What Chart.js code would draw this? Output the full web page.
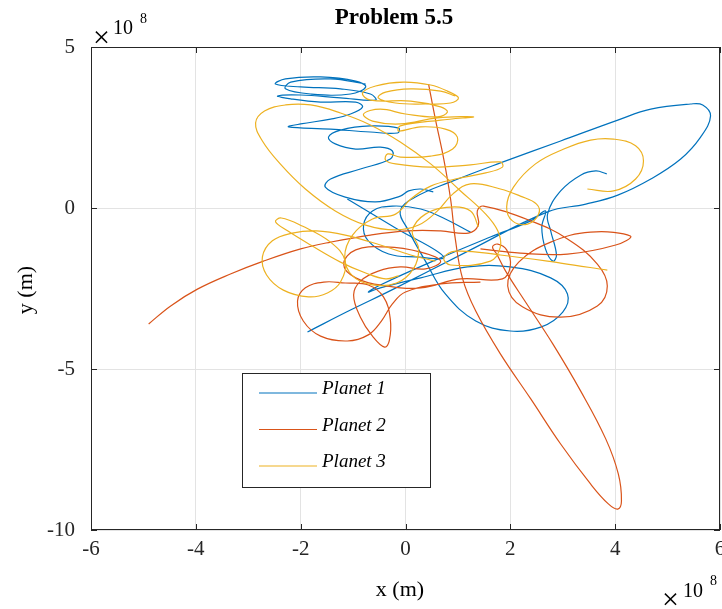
<!DOCTYPE html>
<html>
<head>
<meta charset="utf-8">
<title>Problem 5.5</title>
<script src="https://cdn.jsdelivr.net/npm/chart.js@4.4.1/dist/chart.umd.min.js"></script>
<style>
  html, body { margin: 0; padding: 0; background: #ffffff; }
  #wrap { width: 722px; height: 609px; }
</style>
</head>
<body>
<div id="wrap"><canvas id="orbitChart" width="722" height="609"></canvas></div>
<script>
// positions in units of 1e8 m
const xTicks = [-6, -4, -2, 0, 2, 4, 6];
const yTicks = [-10, -5, 0, 5];
const seriesNames = ["Planet 1", "Planet 2", "Planet 3"];

const planet1PathA = [[-1.87,-3.85],[-1.05,-3.17],[-0.23,-2.52],[1.24,-1.30],[2.71,-0.12],[3.44,0.12],[4.05,0.40],[4.68,0.90],[5.25,1.52],[5.63,2.20],[5.82,2.86],[5.67,3.20],[5.44,3.23],[4.68,3.07],[4.05,2.73],[2.96,2.08],[1.81,1.40],[0.86,0.81],[0.19,0.34],[-0.10,-0.09],[0.06,-0.71],[0.38,-1.65],[0.76,-2.67],[1.34,-3.51],[2.00,-3.82],[2.58,-3.70],[3.00,-3.23],[3.09,-2.67],[2.77,-2.17],[2.00,-1.83],[1.18,-1.83],[0.29,-2.17],[-0.48,-2.48],[-0.71,-2.61],[-0.48,-2.39],[0.48,-1.68],[1.62,-0.90],[2.39,-0.40],[2.67,-0.09],[2.60,-0.59],[2.67,-1.27],[2.81,-1.65],[2.88,-1.46],[2.77,-0.71],[2.71,-0.19],[2.96,0.53],[3.34,1.02],[3.63,1.15],[3.84,1.06]];
const planet1PathB = [[0.53,0.50],[0.29,0.59],[0.06,0.53],[-0.10,0.37],[-0.57,0.19],[-1.15,0.34],[-1.53,0.65],[-1.43,0.90],[-0.86,1.21],[-0.29,1.52],[-0.25,1.77],[-0.48,1.89],[-0.95,1.83],[-1.34,1.99],[-1.47,2.20],[-1.24,2.42],[-0.67,2.55],[-0.13,2.48],[-0.15,2.33],[-0.67,2.36],[-1.43,2.45],[-2.23,2.52],[-2.00,2.61],[-1.43,2.76],[-1.05,2.92],[-0.82,3.14],[-0.95,3.29],[-1.62,3.29],[-2.19,3.39],[-2.44,3.48],[-2.00,3.51],[-1.24,3.42],[-0.57,3.35],[-0.67,3.54],[-1.24,3.70],[-2.00,3.76],[-2.48,3.85],[-2.29,4.01],[-1.62,4.07],[-0.95,3.94],[-0.76,3.76],[-1.05,3.54],[-1.81,3.54],[-2.29,3.70],[-2.19,3.91],[-1.43,4.01],[-0.76,3.85]];
const planet1PathC = [[-1.11,0.28],[-0.19,-0.62],[0.73,-1.52],[0.19,-1.52],[-0.32,-1.43],[-0.71,-1.02],[-0.80,-0.53],[-0.63,-0.09],[-0.25,0.06],[0.29,-0.03],[0.76,-0.34],[1.24,-0.75]];

const planet2PathA = [[-4.90,-3.60],[-4.48,-3.04],[-3.97,-2.52],[-3.34,-2.05],[-2.71,-1.65],[-2.00,-1.27],[-1.43,-1.06],[-0.67,-0.84],[0.04,-0.71],[0.67,-0.71],[1.20,-0.78],[1.39,-0.53],[1.37,-0.09],[1.49,0.06],[2.39,-0.40],[3.09,-0.96],[3.66,-1.74],[3.85,-2.42],[3.66,-3.04],[2.96,-3.39],[2.23,-3.07],[1.95,-2.42],[2.16,-1.68],[2.77,-1.06],[3.53,-0.75],[4.29,-0.87],[4.01,-1.15],[3.09,-1.43],[2.19,-1.40],[1.43,-1.27]];
const planet2PathB = [[0.44,3.85],[0.57,2.76],[0.73,1.52],[0.86,0.28],[0.95,-0.96],[1.09,-2.20],[1.34,-3.20],[1.81,-4.53],[2.39,-5.93],[2.96,-7.33],[3.53,-8.57],[3.87,-9.19],[4.05,-9.35],[4.12,-9.10],[4.06,-8.26],[3.82,-7.17],[3.34,-5.68],[2.81,-4.22],[2.29,-2.92],[1.91,-1.96],[1.74,-1.43],[1.66,-1.21],[1.76,-1.12],[1.93,-1.30],[2.00,-1.80],[1.85,-2.20],[1.05,-2.20],[0.29,-2.48],[-0.38,-2.42],[-0.95,-2.17],[-1.18,-1.74],[-0.95,-1.30],[-0.38,-1.21],[0.29,-1.37],[0.67,-1.65],[0.38,-1.89],[-0.10,-1.83],[-0.52,-1.96],[-0.86,-2.27],[-0.99,-2.70],[-0.86,-3.39],[-0.63,-3.98],[-0.40,-4.32],[-0.31,-4.13],[-0.29,-3.45],[-0.42,-2.76],[-0.71,-2.39],[-1.15,-2.33],[-1.56,-2.30],[-1.91,-2.48],[-2.06,-2.89],[-1.95,-3.51],[-1.62,-3.98],[-1.11,-4.13],[-0.71,-3.94],[-0.46,-3.51],[-0.25,-2.98],[0.00,-2.61],[0.67,-2.36],[1.43,-2.30]];

const planet3PathA = [[3.85,-1.93],[2.96,-1.71],[1.81,-1.46],[0.95,-1.34],[0.73,-1.55],[0.86,-1.77],[1.62,-1.65],[1.81,-1.21],[1.76,-0.71],[1.53,-0.19],[1.05,0.53],[0.48,1.37],[-0.10,2.05],[-0.67,2.58],[-1.24,2.95],[-1.81,3.20],[-2.29,3.20],[-2.69,3.01],[-2.86,2.64],[-2.73,2.08],[-2.39,1.37],[-1.91,0.59],[-1.34,-0.09],[-0.76,-0.53],[-0.19,-0.68],[0.25,-0.53],[0.61,-0.09],[0.90,0.43],[1.24,0.75],[1.81,0.59],[2.19,0.37],[2.50,0.12],[2.54,-0.19],[2.33,-0.50],[2.04,-0.40],[1.93,0.03],[2.06,0.65],[2.48,1.37],[3.02,1.83],[3.53,2.11],[3.97,2.14],[4.39,1.93],[4.54,1.46],[4.39,0.90],[3.97,0.53],[3.47,0.59]];
const planet3PathB = [[0.95,3.48],[0.67,3.63],[0.10,3.70],[-0.38,3.60],[-0.52,3.42],[-0.19,3.26],[0.38,3.23],[0.86,3.26],[1.01,3.42],[0.80,3.63],[0.48,3.82],[-0.04,3.91],[-0.57,3.79],[-0.82,3.57],[-0.67,3.35],[0.10,3.32],[0.67,3.14],[0.80,2.98],[0.61,2.83],[0.00,2.92],[-0.48,3.07],[-0.80,2.92],[-0.63,2.70],[-0.10,2.61],[0.61,2.80],[1.30,2.83],[0.67,2.73],[-0.10,2.55],[-0.13,2.39],[0.29,2.52],[0.76,2.45],[0.99,2.20],[0.90,1.83],[0.48,1.61],[-0.10,1.58],[-0.34,1.68],[-0.38,1.49],[-0.19,1.37],[0.48,1.27],[1.24,1.34],[1.81,1.43],[1.85,1.27],[1.53,1.09],[0.95,0.90],[0.48,0.68],[0.10,0.28],[-0.19,-0.19],[-0.63,-0.34],[-1.01,-0.84],[-1.16,-1.52],[-1.01,-2.11],[-0.63,-2.39],[-0.17,-2.33],[0.15,-1.89],[0.25,-1.27],[0.13,-0.71],[0.38,-0.19],[0.86,0.03],[1.24,-0.09],[1.39,-0.59]];
const planet3PathC = [[-0.13,-2.11],[-0.38,-2.20],[-0.76,-2.02],[-1.24,-1.68],[-1.81,-1.15],[-2.25,-0.71],[-2.48,-0.43],[-2.37,-0.31],[-1.97,-0.56],[-1.43,-1.06],[-1.15,-1.65],[-1.24,-2.30],[-1.49,-2.64],[-1.85,-2.76],[-2.33,-2.55],[-2.65,-2.08],[-2.73,-1.52],[-2.54,-1.02],[-2.16,-0.78],[-1.70,-0.71],[-1.15,-0.84],[-0.48,-1.15],[0.10,-1.46],[0.57,-1.65]];

const planetColors = ["#0072BD", "#D95319", "#EDB120"];
const planetPaths = [
    [planet1PathA, planet1PathB, planet1PathC],
    [planet2PathA, planet2PathB],
    [planet3PathA, planet3PathB, planet3PathC]
];

const datasets = [];
planetPaths.forEach((paths, i) => {
    paths.forEach((path) => {
        datasets.push({
            label: seriesNames[i],
            data: path.map((p) => ({ x: p[0], y: p[1] })),
            showLine: true,
            borderColor: planetColors[i],
            backgroundColor: planetColors[i],
            borderWidth: 1.2,
            pointRadius: 0,
            tension: 0.4,
            order: 2 - i // later planets drawn on top, like matlab
        });
    });
});

const serif = "'Liberation Serif', 'Times New Roman', serif";
const axisColor = "#262626";

// box, inward ticks, labels and legend the matlab way
const matlabFrame = {
    id: "matlabFrame",
    afterDatasetsDraw(chart) {
        const { ctx, chartArea: a, scales } = chart;
        ctx.save();
        ctx.strokeStyle = axisColor;
        ctx.lineWidth = 1;
        ctx.strokeRect(a.left + 0.5, a.top + 0.5, a.right - a.left - 1, a.bottom - a.top - 1);
        ctx.beginPath();
        xTicks.forEach((t) => {
            const px = Math.round(scales.x.getPixelForValue(t)) + 0.5;
            ctx.moveTo(px, a.bottom); ctx.lineTo(px, a.bottom - 6);
            ctx.moveTo(px, a.top); ctx.lineTo(px, a.top + 6);
        });
        yTicks.forEach((t) => {
            const py = Math.round(scales.y.getPixelForValue(t)) + 0.5;
            ctx.moveTo(a.left, py); ctx.lineTo(a.left + 6, py);
            ctx.moveTo(a.right, py); ctx.lineTo(a.right - 6, py);
        });
        ctx.stroke();
        ctx.restore();
    },
    afterDraw(chart) {
        const { ctx } = chart;
        ctx.save();
        ctx.fillStyle = "#000";
        ctx.textBaseline = "alphabetic";

        ctx.font = "bold 23px " + serif;
        ctx.textAlign = "center";
        ctx.fillText("Problem 5.5", 394, 24);

        ctx.font = "22px " + serif;
        ctx.fillText("x (m)", 400, 596);
        ctx.save();
        ctx.translate(32, 290);
        ctx.rotate(-Math.PI / 2);
        ctx.fillText("y (m)", 0, 0);
        ctx.restore();

        // exponent markers
        ctx.textAlign = "left";
        ctx.font = "30px " + serif;
        ctx.fillText("\u00D7", 93, 47);
        ctx.fillText("\u00D7", 662, 609);
        ctx.font = "20px " + serif;
        ctx.fillText("10", 113, 34);
        ctx.fillText("10", 683, 597);
        ctx.font = "14px " + serif;
        ctx.fillText("8", 140, 23);
        ctx.fillText("8", 710, 585);

        // legend box
        const box = { left: 242, top: 373, right: 430, bottom: 487 };
        ctx.fillStyle = "#fff";
        ctx.fillRect(box.left, box.top, box.right - box.left, box.bottom - box.top);
        ctx.strokeStyle = axisColor;
        ctx.lineWidth = 1;
        ctx.strokeRect(box.left + 0.5, box.top + 0.5, box.right - box.left, box.bottom - box.top);
        ctx.font = "italic 19px " + serif;
        seriesNames.forEach((name, i) => {
            const y = 393 + i * 36.5;
            ctx.strokeStyle = planetColors[i];
            ctx.lineWidth = 1.2;
            ctx.beginPath();
            ctx.moveTo(259, y);
            ctx.lineTo(317, y);
            ctx.stroke();
            ctx.fillStyle = "#000";
            ctx.fillText(name, 322, y + 1);
        });
        ctx.restore();
    }
};

const ctx = document.getElementById("orbitChart").getContext("2d");
const orbitChart = new Chart(ctx, {
    type: "scatter",
    data: { datasets: datasets },
    options: {
        responsive: false,
        animation: false,
        devicePixelRatio: 1,
        layout: { padding: { top: 47, right: 2, left: 0, bottom: 0 } },
        plugins: {
            legend: { display: false },
            tooltip: { enabled: false },
            title: { display: false }
        },
        scales: {
            x: {
                type: "linear",
                min: -6,
                max: 6,
                afterFit: (scale) => {
                    scale.height = 79;
                    scale.paddingLeft = 0;
                    scale.paddingRight = 0;
                },
                afterBuildTicks: (scale) => { scale.ticks = xTicks.map((v) => ({ value: v })); },
                ticks: {
                    padding: 7,
                    color: axisColor,
                    font: { family: serif, size: 21 },
                    callback: (v) => String(v)
                },
                grid: { color: "#e3e3e3", drawTicks: false },
                border: { display: false }
            },
            y: {
                type: "linear",
                min: -10,
                max: 5,
                afterFit: (scale) => {
                    scale.width = 91;
                    scale.paddingTop = 0;
                    scale.paddingBottom = 0;
                },
                afterBuildTicks: (scale) => { scale.ticks = yTicks.map((v) => ({ value: v })); },
                ticks: {
                    padding: 16,
                    color: axisColor,
                    font: { family: serif, size: 21 },
                    callback: (v) => String(v)
                },
                grid: { color: "#e3e3e3", drawTicks: false },
                border: { display: false }
            }
        }
    },
    plugins: [matlabFrame]
});
</script>
</body>
</html>
